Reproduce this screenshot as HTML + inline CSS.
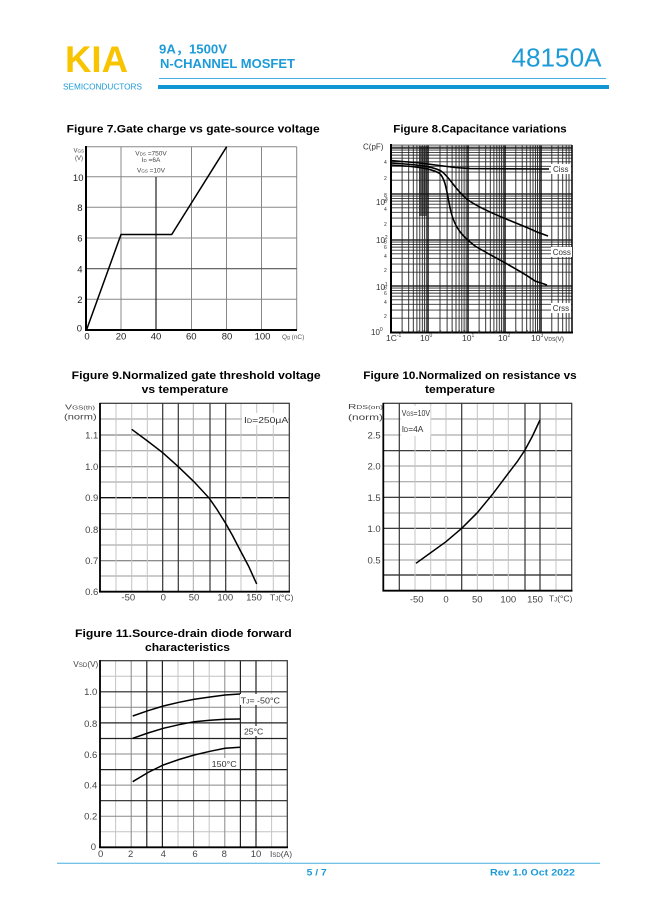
<!DOCTYPE html>
<html><head><meta charset="utf-8"><style>
html,body{margin:0;padding:0;background:#fff;}
svg{display:block;}
text{font-family:"Liberation Sans","Noto Sans CJK SC",sans-serif;}
</style></head><body>
<svg width="649" height="917" viewBox="0 0 649 917" xmlns="http://www.w3.org/2000/svg">
<rect width="649" height="917" fill="#fff"/>
<!-- HEADER -->
<text x="65" y="72" font-size="37" font-weight="bold" fill="#f8c400" textLength="63" lengthAdjust="spacingAndGlyphs">KIA</text>
<text x="63" y="89.5" font-size="8" fill="#1c9bd7" textLength="79" lengthAdjust="spacingAndGlyphs">SEMICONDUCTORS</text>
<text x="159" y="53.5" font-size="12.5" font-weight="bold" fill="#1c9bd7" textLength="68" lengthAdjust="spacingAndGlyphs">9A，1500V</text>
<text x="160" y="68" font-size="13" font-weight="bold" fill="#1c9bd7" textLength="135" lengthAdjust="spacingAndGlyphs">N-CHANNEL MOSFET</text>
<text x="511.5" y="66.7" font-size="25.5" fill="#1c9bd7" textLength="90" lengthAdjust="spacingAndGlyphs">48150A</text>
<line x1="159" y1="78.5" x2="606" y2="78.5" stroke="#45aee0" stroke-width="1"/>
<rect x="158" y="85" width="451" height="4" fill="#1096d3"/>

<!-- FIGURE 7 -->
<text x="66.7" y="132.5" font-size="11" font-weight="bold" fill="#000" textLength="253" lengthAdjust="spacingAndGlyphs">Figure 7.Gate charge vs gate-source voltage</text>
<g stroke="#888" stroke-width="1" fill="none">
<line x1="86" y1="146.7" x2="296.7" y2="146.7"/>
<line x1="296.7" y1="146.7" x2="296.7" y2="330"/>
<line x1="86" y1="299.3" x2="296.7" y2="299.3"/>
<line x1="86" y1="238" x2="296.7" y2="238"/>
<line x1="86" y1="207.3" x2="296.7" y2="207.3"/>
<line x1="86" y1="176.7" x2="296.7" y2="176.7"/>
<line x1="121" y1="146.7" x2="121" y2="330"/>
<line x1="191.5" y1="146.7" x2="191.5" y2="330"/>
<line x1="226.5" y1="146.7" x2="226.5" y2="330"/>
<line x1="261.5" y1="146.7" x2="261.5" y2="330"/>
</g>
<line x1="86" y1="268.7" x2="296.7" y2="268.7" stroke="#555" stroke-width="1.2"/>
<line x1="156" y1="177" x2="156" y2="330" stroke="#222" stroke-width="1.2"/>
<line x1="86" y1="146" x2="86" y2="331" stroke="#000" stroke-width="2"/>
<line x1="85" y1="330" x2="297" y2="330" stroke="#000" stroke-width="2"/>
<polyline points="86.5,330 121,234.5 171.7,234.5 226.7,146.7" fill="none" stroke="#000" stroke-width="1.5"/>
<g font-size="6.5" fill="#444" text-anchor="middle">
<text x="151" y="155.5">V<tspan font-size="4.5">DS</tspan> =750V</text>
<text x="151" y="162">I<tspan font-size="4.5">D</tspan> =6A</text>
<text x="151" y="172.5">V<tspan font-size="4.5">GS</tspan> =10V</text>
</g>
<g font-size="6" fill="#444">
<text x="73.5" y="152.5">V<tspan font-size="4.5">GS</tspan></text>
<text x="75" y="160">(V)</text>
</g>
<g font-size="9.5" fill="#222" text-anchor="end">
<text x="83.5" y="181">10</text>
<text x="82.5" y="211">8</text>
<text x="82.5" y="241.7">6</text>
<text x="82.5" y="272.4">4</text>
<text x="82.5" y="303">2</text>
<text x="82" y="331.5">0</text>
</g>
<g font-size="9.5" fill="#222" text-anchor="middle">
<text x="87" y="339.5">0</text>
<text x="121" y="339.5">20</text>
<text x="156" y="339.5">40</text>
<text x="191.3" y="339.5">60</text>
<text x="227" y="339.5">80</text>
<text x="262.5" y="339.5">100</text>
</g>
<text x="282" y="339" font-size="6.5" fill="#555">Q<tspan font-size="5">g</tspan> (nC)</text>

<!-- FIGURE 8 -->
<text x="393.3" y="132.5" font-size="11" font-weight="bold" fill="#000" textLength="173.4" lengthAdjust="spacingAndGlyphs">Figure 8.Capacitance variations</text>
<rect x="391" y="145" width="181" height="3" fill="#bbb"/>
<rect x="419" y="146" width="8" height="70" fill="#666"/>
<path stroke="#333" stroke-width="0.9" fill="none" d="M391,318.15H572M391,310.05H572M391,304.31H572M391,299.85H572M391,296.2H572M391,293.12H572M391,290.46H572M391,288.1H572M391,272.15H572M391,264.05H572M391,258.31H572M391,253.85H572M391,250.2H572M391,247.12H572M391,244.46H572M391,242.1H572M391,226.15H572M391,218.05H572M391,212.31H572M391,207.85H572M391,204.2H572M391,201.12H572M391,198.46H572M391,196.1H572M391,180.15H572M391,172.05H572M391,166.31H572M391,161.85H572M391,158.2H572M391,155.12H572M391,152.46H572M391,150.1H572"/>
<path stroke="#000" stroke-width="1.3" fill="none" d="M391,286H572M391,240H572M391,194H572M391,148H572"/>
<path stroke="#222" stroke-width="0.9" fill="none" d="M402.1,145V332M408.7,145V332M413.3,145V332M416.9,145V332M419.8,145V332M422.3,145V332M424.4,145V332M426.3,145V332M440,145V332M447.1,145V332M452.1,145V332M456,145V332M459.1,145V332M461.8,145V332M464.1,145V332M466.2,145V332M479.1,145V332M485.7,145V332M490.3,145V332M493.9,145V332M496.8,145V332M499.3,145V332M501.4,145V332M503.3,145V332M515.8,145V332M522.2,145V332M526.7,145V332M530.2,145V332M533,145V332M535.4,145V332M537.5,145V332M539.4,145V332M551.8,145V332M558.2,145V332M562.7,145V332M566.2,145V332M569,145V332"/>
<path stroke="#000" stroke-width="1.4" fill="none" d="M428,145V332M468,145V332M505,145V332M541,145V332"/>
<line x1="391" y1="145" x2="572" y2="145" stroke="#777" stroke-width="1"/>
<line x1="572" y1="145" x2="572" y2="333" stroke="#000" stroke-width="1.5"/>
<line x1="391" y1="144" x2="391" y2="333" stroke="#000" stroke-width="2"/>
<line x1="390" y1="332.5" x2="573" y2="332.5" stroke="#000" stroke-width="2"/>
<g fill="none" stroke="#000" stroke-width="1.6">
<path d="M391,160.5 L420,163 L455,167.5 L470,168.6 L549,169"/>
<path d="M391,163 C415,164.5 432,166 441,171 C450,177 455,190 468,200 C485,212 520,224 537,232 L548,236"/>
<path d="M391,165 C415,166.5 430,168 439,173 C446,178 447,195 451,212 C455,228 462,236 475,246 C495,258 520,270 535,281 L547,285"/>
</g>
<g fill="#fff"><rect x="551" y="164" width="20" height="10"/><rect x="551" y="247" width="21" height="10"/><rect x="551" y="303" width="20" height="10"/></g>
<g font-size="8" fill="#333">
<text x="553" y="172">Ciss</text>
<text x="552.7" y="255">Coss</text>
<text x="552.7" y="311">Crss</text>
</g>
<text x="363" y="149.3" font-size="8" fill="#333">C(pF)</text>
<g font-size="8" fill="#333">
<text x="376" y="205">10<tspan font-size="5" dy="-4">3</tspan></text>
<text x="376" y="243">10<tspan font-size="5" dy="-4">2</tspan></text>
<text x="376" y="290">10<tspan font-size="5" dy="-4">1</tspan></text>
<text x="371" y="335">10<tspan font-size="5" dy="-4">0</tspan></text>
</g>
<g font-size="5" fill="#333">
<text x="384" y="164">4</text><text x="384" y="180">2</text>
<text x="384" y="197">8</text><text x="384" y="203">6</text><text x="384" y="211">4</text><text x="384" y="226">2</text>
<text x="384" y="243.5">8</text><text x="384" y="249">6</text><text x="384" y="258">4</text><text x="384" y="272">2</text>
<text x="384" y="289.5">8</text><text x="384" y="295">6</text><text x="384" y="304">4</text><text x="384" y="318">2</text>
</g>
<g font-size="8.5" fill="#333">
<text x="386" y="341">1C<tspan font-size="5" dy="-4">-1</tspan></text>
<text x="420" y="341">10<tspan font-size="5" dy="-4">0</tspan></text>
<text x="462" y="341">10<tspan font-size="5" dy="-4">1</tspan></text>
<text x="498" y="341">10<tspan font-size="5" dy="-4">2</tspan></text>
<text x="531" y="341">10<tspan font-size="5" dy="-4">3</tspan></text>
<text x="544" y="341" font-size="6.5">V<tspan font-size="5">DS</tspan>(V)</text>
</g>
<g font-size="4.5" fill="#333">
<text x="401" y="333">2</text><text x="412" y="333">4</text><text x="418" y="333">6</text><text x="423" y="333">8</text>
<text x="439" y="333">2</text><text x="451" y="333">4</text><text x="458" y="333">6</text><text x="463" y="333">8</text>
<text x="478" y="333">2</text><text x="489" y="333">4</text><text x="495" y="333">6</text><text x="500" y="333">8</text>
<text x="515" y="333">2</text><text x="526" y="333">4</text><text x="532" y="333">6</text><text x="537" y="333">8</text>
</g>

<!-- FIGURE 9 -->
<text x="71.7" y="379" font-size="11" font-weight="bold" fill="#000" textLength="249" lengthAdjust="spacingAndGlyphs">Figure 9.Normalized gate threshold voltage</text>
<text x="141.7" y="393" font-size="11" font-weight="bold" fill="#000" textLength="86.6" lengthAdjust="spacingAndGlyphs">vs temperature</text>
<g stroke="#999" stroke-width="1">
<line x1="100" y1="419" x2="289.3" y2="419"/>
<line x1="100" y1="435" x2="289.3" y2="435" stroke="#666"/>
<line x1="100" y1="450.7" x2="289.3" y2="450.7"/>
<line x1="100" y1="466.7" x2="289.3" y2="466.7" stroke="#777"/>
<line x1="100" y1="482" x2="289.3" y2="482"/>
<line x1="100" y1="513.7" x2="289.3" y2="513.7"/>
<line x1="100" y1="529.3" x2="289.3" y2="529.3" stroke="#777"/>
<line x1="100" y1="545" x2="289.3" y2="545"/>
<line x1="100" y1="560.7" x2="289.3" y2="560.7" stroke="#666"/>
<line x1="100" y1="576" x2="289.3" y2="576"/>
</g>
<line x1="100" y1="497.7" x2="289.3" y2="497.7" stroke="#111" stroke-width="1.3"/>
<g stroke="#c4c4c4" stroke-width="1">
<line x1="116" y1="403.3" x2="116" y2="591.7"/>
<line x1="131.7" y1="403.3" x2="131.7" y2="591.7"/>
<line x1="147.3" y1="403.3" x2="147.3" y2="591.7"/>
<line x1="193.3" y1="403.3" x2="193.3" y2="591.7" stroke="#aaa"/>
<line x1="241" y1="403.3" x2="241" y2="591.7"/>
<line x1="256.7" y1="403.3" x2="256.7" y2="591.7"/>
<line x1="273.3" y1="403.3" x2="273.3" y2="591.7"/>
</g>
<g stroke="#333" stroke-width="1.2">
<line x1="162.7" y1="403.3" x2="162.7" y2="591.7"/>
<line x1="178.3" y1="403.3" x2="178.3" y2="591.7"/>
<line x1="210" y1="403.3" x2="210" y2="591.7"/>
<line x1="225.7" y1="403.3" x2="225.7" y2="591.7"/>
</g>
<rect x="100" y="403.3" width="189.3" height="188.4" fill="none" stroke="#333" stroke-width="1.2"/>
<line x1="100" y1="403" x2="100" y2="592.5" stroke="#000" stroke-width="1.8"/>
<line x1="99" y1="591.7" x2="290" y2="591.7" stroke="#000" stroke-width="1.8"/>
<rect x="242" y="413" width="46" height="12" fill="#fff"/>
<polyline points="131.7,429.3 147,440.6 162.7,452.7 178.3,466.7 194,481.8 209.3,498.3 217,509.5 225,522.3 232.5,535.5 240,550 248.5,566 256.7,584" fill="none" stroke="#000" stroke-width="1.5"/>
<text x="244" y="423" font-size="8.5" fill="#333" textLength="44.3" lengthAdjust="spacingAndGlyphs">I<tspan font-size="6">D</tspan>=250μA</text>
<text x="65" y="409.5" font-size="7.5" fill="#444" textLength="30" lengthAdjust="spacingAndGlyphs">V<tspan font-size="5.5">GS(th)</tspan></text>
<text x="64" y="419.5" font-size="8.5" fill="#444" textLength="32.7" lengthAdjust="spacingAndGlyphs">(norm)</text>
<g font-size="9.5" fill="#444" text-anchor="end">
<text x="98.3" y="438.5">1.1</text>
<text x="98.3" y="470">1.0</text>
<text x="98.3" y="501">0.9</text>
<text x="98.3" y="533">0.8</text>
<text x="98.3" y="564">0.7</text>
<text x="98.3" y="595">0.6</text>
</g>
<g font-size="9.5" fill="#444" text-anchor="middle">
<text x="128.3" y="600.5">-50</text>
<text x="163.3" y="600.5">0</text>
<text x="194" y="600.5">50</text>
<text x="225.3" y="600.5">100</text>
<text x="254" y="600.5">150</text>
</g>
<text x="270" y="600.5" font-size="8.5" fill="#444">T<tspan font-size="6">J</tspan>(°C)</text>

<!-- FIGURE 10 -->
<text x="363.3" y="379" font-size="11" font-weight="bold" fill="#000" textLength="213.4" lengthAdjust="spacingAndGlyphs">Figure 10.Normalized on resistance vs</text>
<text x="425" y="393" font-size="11" font-weight="bold" fill="#000" textLength="70" lengthAdjust="spacingAndGlyphs">temperature</text>
<g stroke="#999" stroke-width="1">
<line x1="383.3" y1="419" x2="571.7" y2="419"/>
<line x1="383.3" y1="435" x2="571.7" y2="435"/>
<line x1="383.3" y1="466" x2="571.7" y2="466"/>
<line x1="383.3" y1="481.7" x2="571.7" y2="481.7"/>
<line x1="383.3" y1="513" x2="571.7" y2="513"/>
<line x1="383.3" y1="544.3" x2="571.7" y2="544.3"/>
<line x1="383.3" y1="560" x2="571.7" y2="560"/>
</g>
<g stroke="#222" stroke-width="1.2">
<line x1="383.3" y1="450.7" x2="571.7" y2="450.7"/>
<line x1="383.3" y1="497.3" x2="571.7" y2="497.3"/>
<line x1="383.3" y1="528.3" x2="571.7" y2="528.3"/>
<line x1="383.3" y1="575" x2="571.7" y2="575"/>
</g>
<g stroke="#c4c4c4" stroke-width="1">
<line x1="415" y1="403.3" x2="415" y2="590.7"/>
<line x1="430.7" y1="403.3" x2="430.7" y2="590.7"/>
<line x1="446" y1="403.3" x2="446" y2="590.7"/>
<line x1="477.3" y1="403.3" x2="477.3" y2="590.7"/>
<line x1="493.3" y1="403.3" x2="493.3" y2="590.7"/>
<line x1="508.3" y1="403.3" x2="508.3" y2="590.7"/>
<line x1="556" y1="403.3" x2="556" y2="590.7"/>
</g>
<g stroke="#333" stroke-width="1.2">
<line x1="399.3" y1="403.3" x2="399.3" y2="590.7"/>
<line x1="461.7" y1="403.3" x2="461.7" y2="590.7"/>
<line x1="525" y1="403.3" x2="525" y2="590.7"/>
<line x1="540" y1="403.3" x2="540" y2="590.7"/>
</g>
<rect x="383.3" y="403.3" width="188.4" height="187.4" fill="none" stroke="#333" stroke-width="1.2"/>
<line x1="383.3" y1="403" x2="383.3" y2="591.5" stroke="#000" stroke-width="1.8"/>
<line x1="382.5" y1="590.7" x2="572.5" y2="590.7" stroke="#000" stroke-width="1.8"/>
<rect x="400.5" y="406" width="30" height="30" fill="#fff"/>
<polyline points="416,563.3 431,552.5 446,541.7 461.7,528.3 477.3,512.7 493.3,493.3 508.3,473.3 517,462 525,450 532.5,436 540,420" fill="none" stroke="#000" stroke-width="1.5"/>
<text x="401.7" y="416" font-size="8.5" fill="#333" textLength="28.3" lengthAdjust="spacingAndGlyphs">V<tspan font-size="6">GS</tspan>=10V</text>
<text x="401.7" y="432" font-size="8.5" fill="#333" textLength="21.6" lengthAdjust="spacingAndGlyphs">I<tspan font-size="6">D</tspan>=4A</text>
<text x="348" y="409" font-size="7.5" fill="#444" textLength="35" lengthAdjust="spacingAndGlyphs">R<tspan font-size="5.5">DS(on)</tspan></text>
<text x="348" y="420" font-size="8.5" fill="#444" textLength="35" lengthAdjust="spacingAndGlyphs">(norm)</text>
<g font-size="9.5" fill="#444" text-anchor="end">
<text x="380.7" y="438.5">2.5</text>
<text x="380.7" y="469.5">2.0</text>
<text x="380.7" y="500.8">1.5</text>
<text x="380.7" y="531.8">1.0</text>
<text x="380.7" y="563.5">0.5</text>
</g>
<g font-size="9.5" fill="#444" text-anchor="middle">
<text x="416.7" y="602.5">-50</text>
<text x="446" y="602.5">0</text>
<text x="477.3" y="602.5">50</text>
<text x="508.3" y="602.5">100</text>
<text x="535" y="602.5">150</text>
</g>
<text x="549" y="601.5" font-size="8.5" fill="#444">T<tspan font-size="6">J</tspan>(°C)</text>

<!-- FIGURE 11 -->
<text x="75" y="637" font-size="11" font-weight="bold" fill="#000" textLength="216.7" lengthAdjust="spacingAndGlyphs">Figure 11.Source-drain diode forward</text>
<text x="145" y="651" font-size="11" font-weight="bold" fill="#000" textLength="85" lengthAdjust="spacingAndGlyphs">characteristics</text>
<g stroke="#c4c4c4" stroke-width="1">
<line x1="115.6" y1="660.7" x2="115.6" y2="847.3"/>
<line x1="178" y1="660.7" x2="178" y2="847.3"/>
<line x1="209.2" y1="660.7" x2="209.2" y2="847.3"/>
<line x1="271.6" y1="660.7" x2="271.6" y2="847.3"/>
<line x1="100" y1="831.8" x2="287.3" y2="831.8"/>
<line x1="100" y1="676.2" x2="287.3" y2="676.2"/>
</g>
<g stroke="#888" stroke-width="1">
<line x1="131.2" y1="660.7" x2="131.2" y2="847.3"/>
<line x1="193.6" y1="660.7" x2="193.6" y2="847.3"/>
<line x1="224.8" y1="660.7" x2="224.8" y2="847.3"/>
<line x1="100" y1="816.2" x2="287.3" y2="816.2"/>
<line x1="100" y1="785.1" x2="287.3" y2="785.1"/>
<line x1="100" y1="754" x2="287.3" y2="754"/>
<line x1="100" y1="707.3" x2="287.3" y2="707.3"/>
</g>
<g stroke="#222" stroke-width="1.2">
<line x1="146.8" y1="660.7" x2="146.8" y2="847.3"/>
<line x1="162.4" y1="660.7" x2="162.4" y2="847.3"/>
<line x1="240.4" y1="660.7" x2="240.4" y2="847.3"/>
<line x1="256" y1="660.7" x2="256" y2="847.3"/>
<line x1="100" y1="800.7" x2="287.3" y2="800.7"/>
<line x1="100" y1="769.6" x2="287.3" y2="769.6"/>
<line x1="100" y1="738.5" x2="287.3" y2="738.5"/>
<line x1="100" y1="722.9" x2="287.3" y2="722.9"/>
<line x1="100" y1="691.8" x2="287.3" y2="691.8"/>
</g>
<rect x="100" y="660.7" width="187.3" height="186.6" fill="none" stroke="#333" stroke-width="1.2"/>
<line x1="100" y1="660" x2="100" y2="848" stroke="#000" stroke-width="1.8"/>
<line x1="99" y1="847.3" x2="288" y2="847.3" stroke="#000" stroke-width="1.8"/>
<rect x="240" y="694" width="42" height="11" fill="#fff"/>
<rect x="243" y="726" width="22" height="10" fill="#fff"/>
<rect x="210.5" y="758" width="27" height="11" fill="#fff"/>
<g fill="none" stroke="#000" stroke-width="1.5">
<polyline points="132.7,716 148,710.7 163.3,706 179,702.3 194.3,699.3 210,697 225,695 240,694"/>
<polyline points="132.7,738.3 148,733 163.3,728.3 179,724.7 194.3,721.7 210,720.2 225,719.3 240,719"/>
<polyline points="132.7,781.7 148,772.5 163.3,765 179,759.5 194.3,755 210,751.3 225,748.3 240,747.3"/>
</g>
<text x="240.7" y="703.5" font-size="8.5" fill="#333" textLength="39.3" lengthAdjust="spacingAndGlyphs">T<tspan font-size="6">J</tspan>= -50°C</text>
<text x="244" y="734.5" font-size="8.5" fill="#333" textLength="19.3" lengthAdjust="spacingAndGlyphs">25°C</text>
<text x="211.7" y="767" font-size="8.5" fill="#333" textLength="25" lengthAdjust="spacingAndGlyphs">150°C</text>
<text x="73.3" y="667" font-size="8" fill="#444" textLength="25" lengthAdjust="spacingAndGlyphs">V<tspan font-size="6">SD</tspan>(V)</text>
<g font-size="9.5" fill="#444" text-anchor="end">
<text x="97.3" y="695">1.0</text>
<text x="97.3" y="727">0.8</text>
<text x="97.3" y="758">0.6</text>
<text x="97.3" y="788.5">0.4</text>
<text x="97.3" y="819.5">0.2</text>
<text x="96" y="850">0</text>
</g>
<g font-size="9.5" fill="#444" text-anchor="middle">
<text x="100.7" y="857">0</text>
<text x="130.7" y="857">2</text>
<text x="163.3" y="857">4</text>
<text x="195" y="857">6</text>
<text x="224.3" y="857">8</text>
<text x="256" y="857">10</text>
</g>
<text x="270" y="857" font-size="8.5" fill="#444">I<tspan font-size="6">SD</tspan>(A)</text>

<!-- FOOTER -->
<line x1="57" y1="863.3" x2="600" y2="863.3" stroke="#45aee0" stroke-width="1"/>
<text x="306.7" y="875.5" font-size="9" font-weight="bold" fill="#1c9bd7" textLength="20" lengthAdjust="spacingAndGlyphs">5 / 7</text>
<text x="490" y="875.5" font-size="9.5" font-weight="bold" fill="#1c9bd7" textLength="85" lengthAdjust="spacingAndGlyphs">Rev 1.0 Oct  2022</text>
</svg>
</body></html>
